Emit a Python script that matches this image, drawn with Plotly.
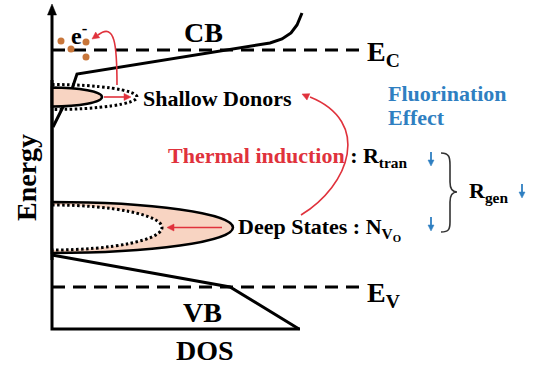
import math
import plotly.graph_objects as go

# ---- data (schematic coordinates: x = DOS, y = energy, drawn in a 533x367 frame) ----
cb_x = [53, 72, 77, 270, 282, 291, 297, 302]
cb_y = [127, 89, 74, 43, 39, 33, 25, 13]
vb_x = [52, 230, 299]
vb_y = [255, 287, 329]
ec_level = 50
ev_level = 287
dos_max = 362
axis_x = [52, 52, 300]
axis_y = [14, 329, 329]
electrons_x = [61, 71, 86, 86]
electrons_y = [41, 49, 42, 57]
shallow = dict(y0=97, half=9.5, tip=102, dot_half=12.5, dot_tip=137)
deep = dict(y0=227.5, half=25.5, tip=233, dot_half=22.5, dot_tip=162)

FONT = "Liberation Serif, Times New Roman, serif"
RED = "#e0323c"
BLUE = "#2f7fc1"
PEACH = "#f8d4c2"
BROWN = "#c8763a"

fig = go.Figure()

# band edges
fig.add_trace(go.Scatter(x=cb_x, y=cb_y, mode="lines", line=dict(color="black", width=3)))
fig.add_trace(go.Scatter(x=vb_x, y=vb_y, mode="lines", line=dict(color="black", width=3)))
# axes
fig.add_trace(go.Scatter(x=axis_x, y=axis_y, mode="lines", line=dict(color="black", width=3)))
# band-edge levels
for lvl in (ec_level, ev_level):
    fig.add_trace(go.Scatter(x=[52, dos_max], y=[lvl, lvl], mode="lines",
                             line=dict(color="black", width=3, dash="13px,8px")))
# electrons
fig.add_trace(go.Scatter(x=electrons_x, y=electrons_y, mode="markers",
                         marker=dict(color=BROWN, size=7)))

def half_ellipse(x0, y0, a, b):
    k = 0.5523
    return (f"M {x0} {y0-b} C {x0+k*a} {y0-b} {x0+a} {y0-k*b} {x0+a} {y0} "
            f"C {x0+a} {y0+k*b} {x0+k*a} {y0+b} {x0} {y0+b}")

shapes = []
# shallow donors: filled solid lens, open dotted outline outside
shapes.append(dict(type="path", path=half_ellipse(52, shallow["y0"], shallow["tip"]-52, shallow["half"]) + " Z",
                   fillcolor=PEACH, line=dict(color="black", width=2.5), layer="above"))
shapes.append(dict(type="path", path=half_ellipse(52, shallow["y0"], shallow["dot_tip"]-52, shallow["dot_half"]),
                   line=dict(color="black", width=3, dash="2.5px,2.5px"), layer="above"))
# deep states: filled solid lens, emptied dotted region inside
shapes.append(dict(type="path", path=half_ellipse(52, deep["y0"], deep["tip"]-52, deep["half"]) + " Z",
                   fillcolor=PEACH, line=dict(color="black", width=2.5), layer="above"))
shapes.append(dict(type="path", path=half_ellipse(52, deep["y0"], deep["dot_tip"]-52, deep["dot_half"]) + " Z",
                   fillcolor="white", line=dict(width=0), layer="above"))
shapes.append(dict(type="path", path=half_ellipse(52, deep["y0"], deep["dot_tip"]-52, deep["dot_half"]),
                   line=dict(color="black", width=3, dash="2.5px,2.5px"), layer="above"))
# redraw axis segment over fills
shapes.append(dict(type="line", x0=52, x1=52, y0=80, y1=260, line=dict(color="black", width=3), layer="above"))
# curved red arrows
shapes.append(dict(type="path", path="M 117 85 C 117 45 115 22 98 35",
                   line=dict(color=RED, width=1.6), layer="above"))
shapes.append(dict(type="path", path="M 301 215 C 350 185 372 122 310 97",
                   line=dict(color=RED, width=1.6), layer="above"))
# brace
shapes.append(dict(type="path",
                   path="M 441 153 C 449 153 450 157 450 165 L 450 182 C 450 189 452 192 457 192 "
                        "C 452 192 450 195 450 202 L 450 222 C 450 229 449 232 441 232",
                   line=dict(color="#333333", width=1.6), layer="above"))

def head(tx, ty, fx, fy, color, length, halfw):
    """triangle arrowhead with tip (tx,ty), pointing away from (fx,fy)"""
    d = math.hypot(tx - fx, ty - fy)
    ux, uy = (tx - fx) / d, (ty - fy) / d
    bx, by = tx - ux * length, ty - uy * length
    px, py = -uy, ux
    shapes.append(dict(type="path",
                       path=f"M {tx} {ty} L {bx+px*halfw} {by+py*halfw} L {bx-px*halfw} {by-py*halfw} Z",
                       fillcolor=color, line=dict(color=color, width=0.5), layer="above"))
    return bx, by

def arrow(tx, ty, fx, fy, color, width=1.6, length=7, halfw=3.5):
    bx, by = head(tx, ty, fx, fy, color, length, halfw)
    shapes.append(dict(type="line", x0=fx, y0=fy, x1=bx + (tx - bx) * 0.2, y1=by + (ty - by) * 0.2,
                       line=dict(color=color, width=width), layer="above"))

head(52, 4, 52, 40, "black", 11, 4.5)
arrow(131, 97, 104, 97, RED)
arrow(167, 227.5, 222, 227.5, RED)
head(92, 39, 99, 34, RED, 7, 3.5)
head(302, 94, 311, 98, RED, 7, 3.5)
for (bx, by) in [(431, 166), (431, 231), (522, 198)]:
    arrow(bx, by, bx, by - 14, BLUE, width=1.8, length=6, halfw=3)

anns = []
def text(x, y, s, size=22, color="black", xanchor="left", angle=0):
    anns.append(dict(x=x, y=y, xref="x", yref="y", text=s, showarrow=False,
                     xanchor=xanchor, yanchor="middle", textangle=angle,
                     font=dict(family=FONT, size=size, color=color, weight="bold")))

text(203, 32, "CB", 28, xanchor="center")
text(202, 312, "VB", 28, xanchor="center")
text(205, 350, "DOS", 28, xanchor="center")
text(26, 178, "Energy", 28, xanchor="center", angle=-90)
text(69, 34, "e<sup>-</sup>", 24)
text(365, 53, "E<sub>C</sub>", 28)
text(365, 294, "E<sub>V</sub>", 28)
text(141, 98, "Shallow Donors")
text(386, 93, "Fluorination", 22, BLUE)
text(386, 117, "Effect", 22, BLUE)
text(166, 157, f"<span style='color:{RED}'>Thermal induction</span> : R<sub>tran</sub>")
text(236, 229, "Deep States : N<sub>V<sub>O</sub></sub>")
text(467, 192, "R<sub>gen</sub>")

fig.update_layout(
    width=533, height=367, autosize=False,
    margin=dict(l=0, r=0, t=0, b=0),
    paper_bgcolor="white", plot_bgcolor="white",
    showlegend=False,
    font=dict(family=FONT),
    xaxis=dict(range=[0, 533], visible=False, fixedrange=True),
    yaxis=dict(range=[367, 0], visible=False, fixedrange=True),
    shapes=shapes, annotations=anns,
)
fig.write_html("out.html", config={"displayModeBar": False})
